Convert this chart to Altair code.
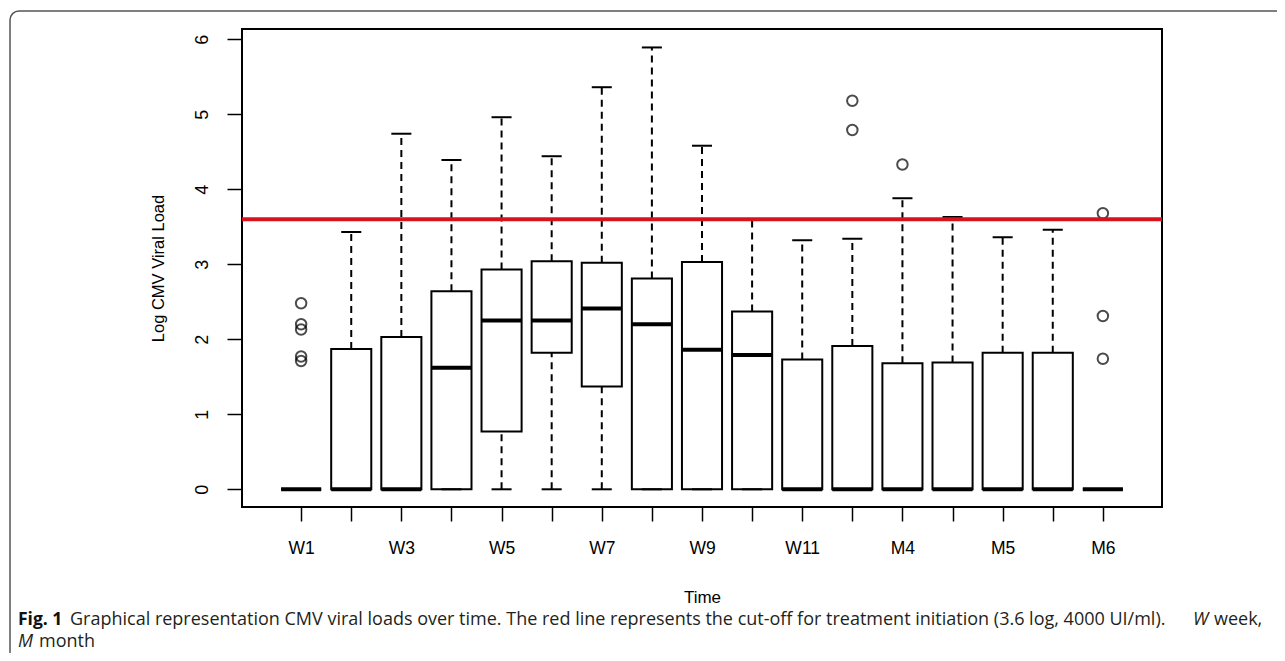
import altair as alt
import pandas as pd

# ---- data ----
positions = list(range(1, 18))
labels = ["W1", "W2", "W3", "W4", "W5", "W6", "W7", "W8", "W9", "W10",
          "W11", "W12", "M4", "M4.5", "M5", "M5.5", "M6"]
shown_labels = ["W1", "", "W3", "", "W5", "", "W7", "", "W9", "",
                "W11", "", "M4", "", "M5", "", "M6"]
q1 = [0, 0, 0, 0, 0.77, 1.82, 1.37, 0, 0, 0, 0, 0, 0, 0, 0, 0, 0]
med = [0, 0, 0, 1.62, 2.25, 2.25, 2.41, 2.20, 1.86, 1.79, 0, 0, 0, 0, 0, 0, 0]
q3 = [0, 1.87, 2.03, 2.64, 2.93, 3.04, 3.02, 2.81, 3.03, 2.37,
      1.73, 1.91, 1.68, 1.69, 1.82, 1.82, 0]
whi = [0, 3.43, 4.74, 4.39, 4.96, 4.44, 5.36, 5.89, 4.58, 3.59,
       3.32, 3.34, 3.88, 3.63, 3.36, 3.46, 0]
wlo = [0] * 17
out_pos = [1, 1, 1, 1, 1, 12, 12, 13, 17, 17, 17]
out_val = [2.48, 2.20, 2.13, 1.77, 1.71, 5.18, 4.79, 4.33, 3.68, 2.31, 1.74]
cutoff = [3.6]

df = pd.DataFrame(dict(pos=positions, label=labels, q1=q1, med=med, q3=q3,
                       wlo=wlo, whi=whi))
outs = pd.DataFrame(dict(pos=out_pos, val=out_val))
cut = pd.DataFrame(dict(y=cutoff))

W, H = 920, 478
FONT = "Liberation Sans"
CAP_FONT = "Open Sans"

xscale = alt.Scale(domain=[-0.18, 18.18], nice=False, zero=False)
yscale = alt.Scale(domain=[-0.236, 6.136], nice=False, zero=False)

label_expr = "[" + ",".join("'%s'" % s for s in shown_labels) + "][datum.value-1]"

xaxis = alt.Axis(values=positions, labelExpr=label_expr, title="Time",
                 tickSize=14, tickWidth=1.5, tickColor="black", domain=False,
                 grid=False, labelFont=FONT, labelFontSize=17.5, labelColor="black",
                 labelPadding=18, titleFont=FONT, titleFontSize=17,
                 titleFontWeight="normal", titleColor="black", titlePadding=33,
                 labelOverlap=False)
yaxis = alt.Axis(values=[0, 1, 2, 3, 4, 5, 6], title="Log CMV Viral Load",
                 tickSize=15, tickWidth=1.5, tickColor="black", domain=False,
                 grid=False, labelFont=FONT, labelFontSize=18, labelColor="black",
                 labelAngle=270, labelPadding=16, titleFont=FONT,
                 titleFontSize=16.5, titleFontWeight="normal", titleColor="black",
                 titlePadding=27)


def X(f):
    return alt.X(f, scale=xscale, axis=xaxis)


def Y(f):
    return alt.Y(f, scale=yscale, axis=yaxis)


base = alt.Chart(df).transform_calculate(
    xl="datum.pos-0.4", xr="datum.pos+0.4",
    cl="datum.pos-0.2", cr="datum.pos+0.2")

whisk_up = base.mark_rule(strokeDash=[7, 5], strokeWidth=2, color="black").encode(
    x=X("pos:Q"), y=Y("q3:Q"), y2="whi:Q")
whisk_lo = base.mark_rule(strokeDash=[7, 5], strokeWidth=2, color="black").encode(
    x=X("pos:Q"), y=Y("wlo:Q"), y2="q1:Q")
boxes = base.mark_rect(fill="white", stroke="black", strokeWidth=2).encode(
    x=X("xl:Q"), x2="xr:Q", y=Y("q1:Q"), y2="q3:Q")
cap_hi = base.mark_rule(strokeWidth=2, color="black").encode(
    x=X("cl:Q"), x2="cr:Q", y=Y("whi:Q"))
cap_lo = base.mark_rule(strokeWidth=2, color="black").encode(
    x=X("cl:Q"), x2="cr:Q", y=Y("wlo:Q"))
medians = base.mark_rule(strokeWidth=4, color="black", strokeCap="butt").encode(
    x=X("xl:Q"), x2="xr:Q", y=Y("med:Q"))
points = alt.Chart(outs).mark_point(shape="circle", filled=False, size=110,
                                    strokeWidth=2, color="black").encode(
    x=X("pos:Q"), y=Y("val:Q"))
redline = alt.Chart(cut).mark_rule(color="#d8131c", strokeWidth=4).encode(
    x=alt.value(0), x2=alt.value(W), y=Y("y:Q"))

one = alt.Data(values=[{}])
# outer figure frame (rounded, only top/left visible)
frame = alt.Chart(one).mark_rect(fillOpacity=0, stroke="#555555", strokeWidth=1.5,
                                 cornerRadius=9).encode(
    x=alt.value(-232), x2=alt.value(1200), y=alt.value(-18), y2=alt.value(700))


def txt(s, x, y, weight="normal", style="normal", size=18.0, color="#231f20"):
    return alt.Chart(one).mark_text(text=s, align="left", baseline="alphabetic",
                                    font=CAP_FONT, fontSize=size,
                                    fontWeight=weight, fontStyle=style,
                                    color=color).encode(
        x=alt.value(x), y=alt.value(y))


cap1 = txt("Fig. 1", -224, 596, weight="bold", size=17.5, color="#111111")
cap2 = txt("Graphical representation CMV viral loads over time. The red line "
           "represents the cut-off for treatment initiation (3.6 log, 4000 UI/ml).",
           -172, 596)
cap3 = txt("W", 951, 596, style="italic")
cap4 = txt("week,", 972, 596)
cap5 = txt("M", -224, 618, style="italic")
cap6 = txt("month", -203, 618)

chart = alt.layer(whisk_up, whisk_lo, boxes, medians, cap_hi, cap_lo, points,
                  redline, frame, cap1, cap2, cap3, cap4, cap5, cap6).properties(
    width=W, height=H,
    background="white",
    autosize=alt.AutoSizeParams(type="none"),
    padding={"left": 234, "top": 21, "right": 115, "bottom": 146},
).configure_view(stroke="black", strokeWidth=2)

chart.save("out.html", embed_options={"renderer": "svg", "actions": False})
